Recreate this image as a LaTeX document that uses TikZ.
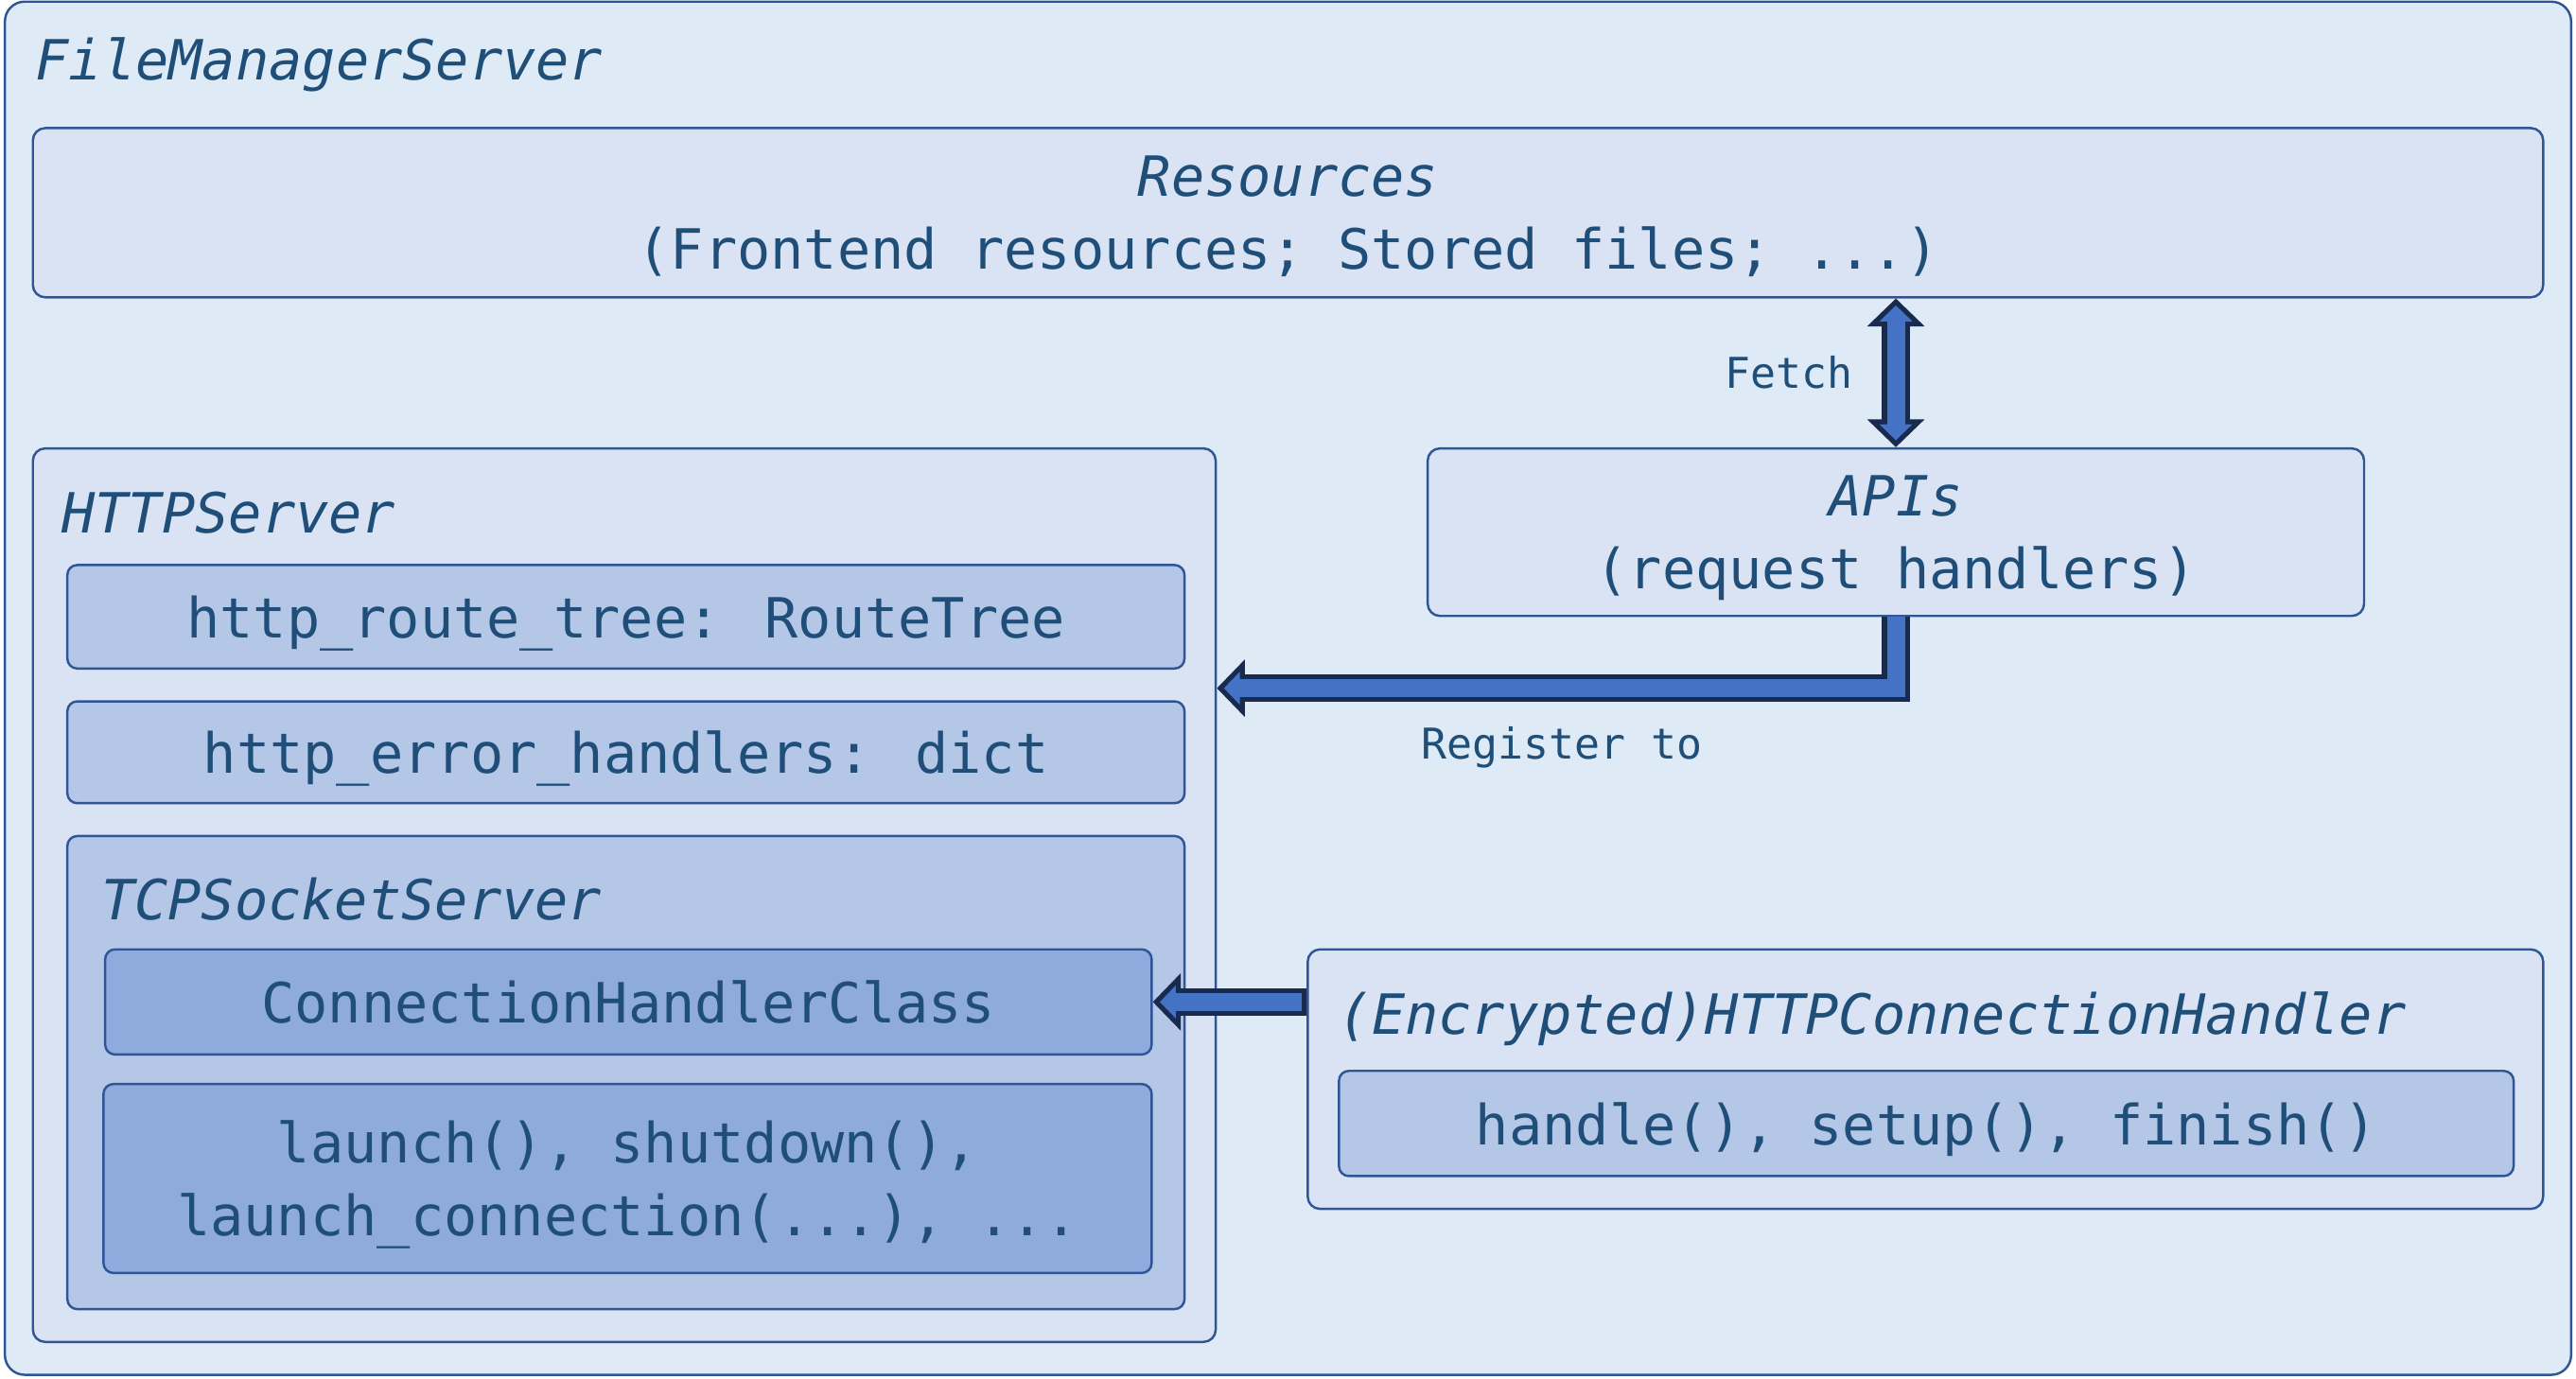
\documentclass[tikz,border=0pt]{standalone}
\usepackage{fontspec}
\newfontfamily\codefont{DejaVu Sans Mono}
\usetikzlibrary{arrows.meta,positioning}

\definecolor{bgblue}{RGB}{222,235,247}
\definecolor{groupblue}{RGB}{218,227,243}
\definecolor{fieldblue}{RGB}{180,199,231}
\definecolor{memberblue}{RGB}{143,170,220}
\definecolor{boxline}{RGB}{47,85,151}
\definecolor{textblue}{RGB}{31,78,121}
\definecolor{arrowblue}{RGB}{68,114,196}
\definecolor{arrowdark}{RGB}{24,42,78}

\def\mainfont{\codefont\fontsize{19.2}{25.2}\selectfont}

\begin{document}
\begin{tikzpicture}
        \tikzstyle{box}=[draw=boxline, line width=0.8pt, rounded corners=0.12cm, inner sep=0pt, text=textblue, font=\mainfont, align=center, text depth=0pt]
        \tikzstyle{outer box}=[box, fill=bgblue, rounded corners=0.24cm]
        \tikzstyle{group box}=[box, fill=groupblue, rounded corners=0.15cm]
        \tikzstyle{field box}=[box, fill=fieldblue]
        \tikzstyle{member box}=[box, fill=memberblue]
        \tikzstyle{title}=[anchor=west, inner sep=0pt, text=textblue, font=\mainfont\itshape]
        \tikzstyle{annot}=[inner sep=0pt, text=textblue, font=\codefont\fontsize{14.7}{18}\selectfont]
        \tikzstyle{flow out}=[line width=0.34cm, draw=arrowdark, line join=miter, >={Triangle[width=0.68cm,length=0.34cm]}]
        \tikzstyle{flow in}=[line width=0.22cm, draw=arrowblue, line join=miter, >={Triangle[width=0.39cm,length=0.195cm]}]

        \useasboundingbox (0,0) rectangle (31.36,-16.78);

        % Outer server
        \node[outer box, minimum width=31.24cm, minimum height=16.72cm] (fms) at (15.68,-8.38) {};
        \node[title] (fms-t) at ([xshift=0.38cm, yshift=-0.78cm]fms.north west) {FileManagerServer};

        % Resources and APIs
        \node[group box, minimum width=30.56cm, minimum height=2.06cm] (res) at (15.68,-2.59)
            {{\itshape Resources}\\(Frontend resources; Stored files; ...)};
        \node[group box, minimum width=11.40cm, minimum height=2.04cm] (api) at (23.08,-6.48)
            {{\itshape APIs}\\(request handlers)};

        % HTTPServer with its members
        \node[group box, minimum width=14.40cm, minimum height=10.88cm] (http) at (7.60,-10.90) {};
        \node[title] (http-t) at ([xshift=0.36cm, yshift=-0.80cm]http.north west) {HTTPServer};
        \node[field box, minimum width=13.60cm, minimum height=1.26cm] (route) at (7.62,-7.51) {http\_route\_tree: RouteTree};
        \node[field box, minimum width=13.60cm, minimum height=1.24cm] (errh) at (7.62,-9.16) {http\_error\_handlers: dict};
        \node[field box, minimum width=13.60cm, minimum height=5.76cm] (tcp) at (7.62,-13.06) {};
        \node[title] (tcp-t) at ([xshift=0.42cm, yshift=-0.78cm]tcp.north west) {TCPSocketServer};
        \node[member box, minimum width=12.74cm, minimum height=1.28cm] (conn) at (7.65,-12.20) {ConnectionHandlerClass};
        \node[member box, minimum width=12.76cm, minimum height=2.30cm] (launch) at (7.64,-14.35)
            {launch(), shutdown(),\\launch\_connection(...), ...};

        % Connection handler
        \node[group box, minimum width=15.04cm, minimum height=3.16cm] (enc) at (23.44,-13.14) {};
        \node[title] (enc-t) at ([xshift=0.38cm, yshift=-0.86cm]enc.north west) {(Encrypted)HTTPConnectionHandler};
        \node[field box, minimum width=14.30cm, minimum height=1.28cm] (hdl) at (23.45,-13.68) {handle(), setup(), finish()};

        % Block arrows
        \draw[flow out,<->] (api.north) -- (api.north |- res.south);
        \draw[flow in,<->,shorten <=0.085cm,shorten >=0.085cm] (api.north) -- (api.north |- res.south);
        \node[annot, anchor=east] (fetch) at (22.56,-4.54) {Fetch};

        \coordinate (reg) at (http.east |- 0,-8.38);
        \draw[flow out,->] (api.south) |- (reg);
        \draw[flow in,->,shorten >=0.085cm] (api.south) |- (reg);
        \node[annot, anchor=west] (register) at (17.30,-9.10) {Register to};

        \draw[flow out,->] (enc.west |- conn.east) -- (conn.east);
        \draw[flow in,->,shorten <=0.06cm,shorten >=0.085cm] (enc.west |- conn.east) -- (conn.east);
\end{tikzpicture}
\end{document}
